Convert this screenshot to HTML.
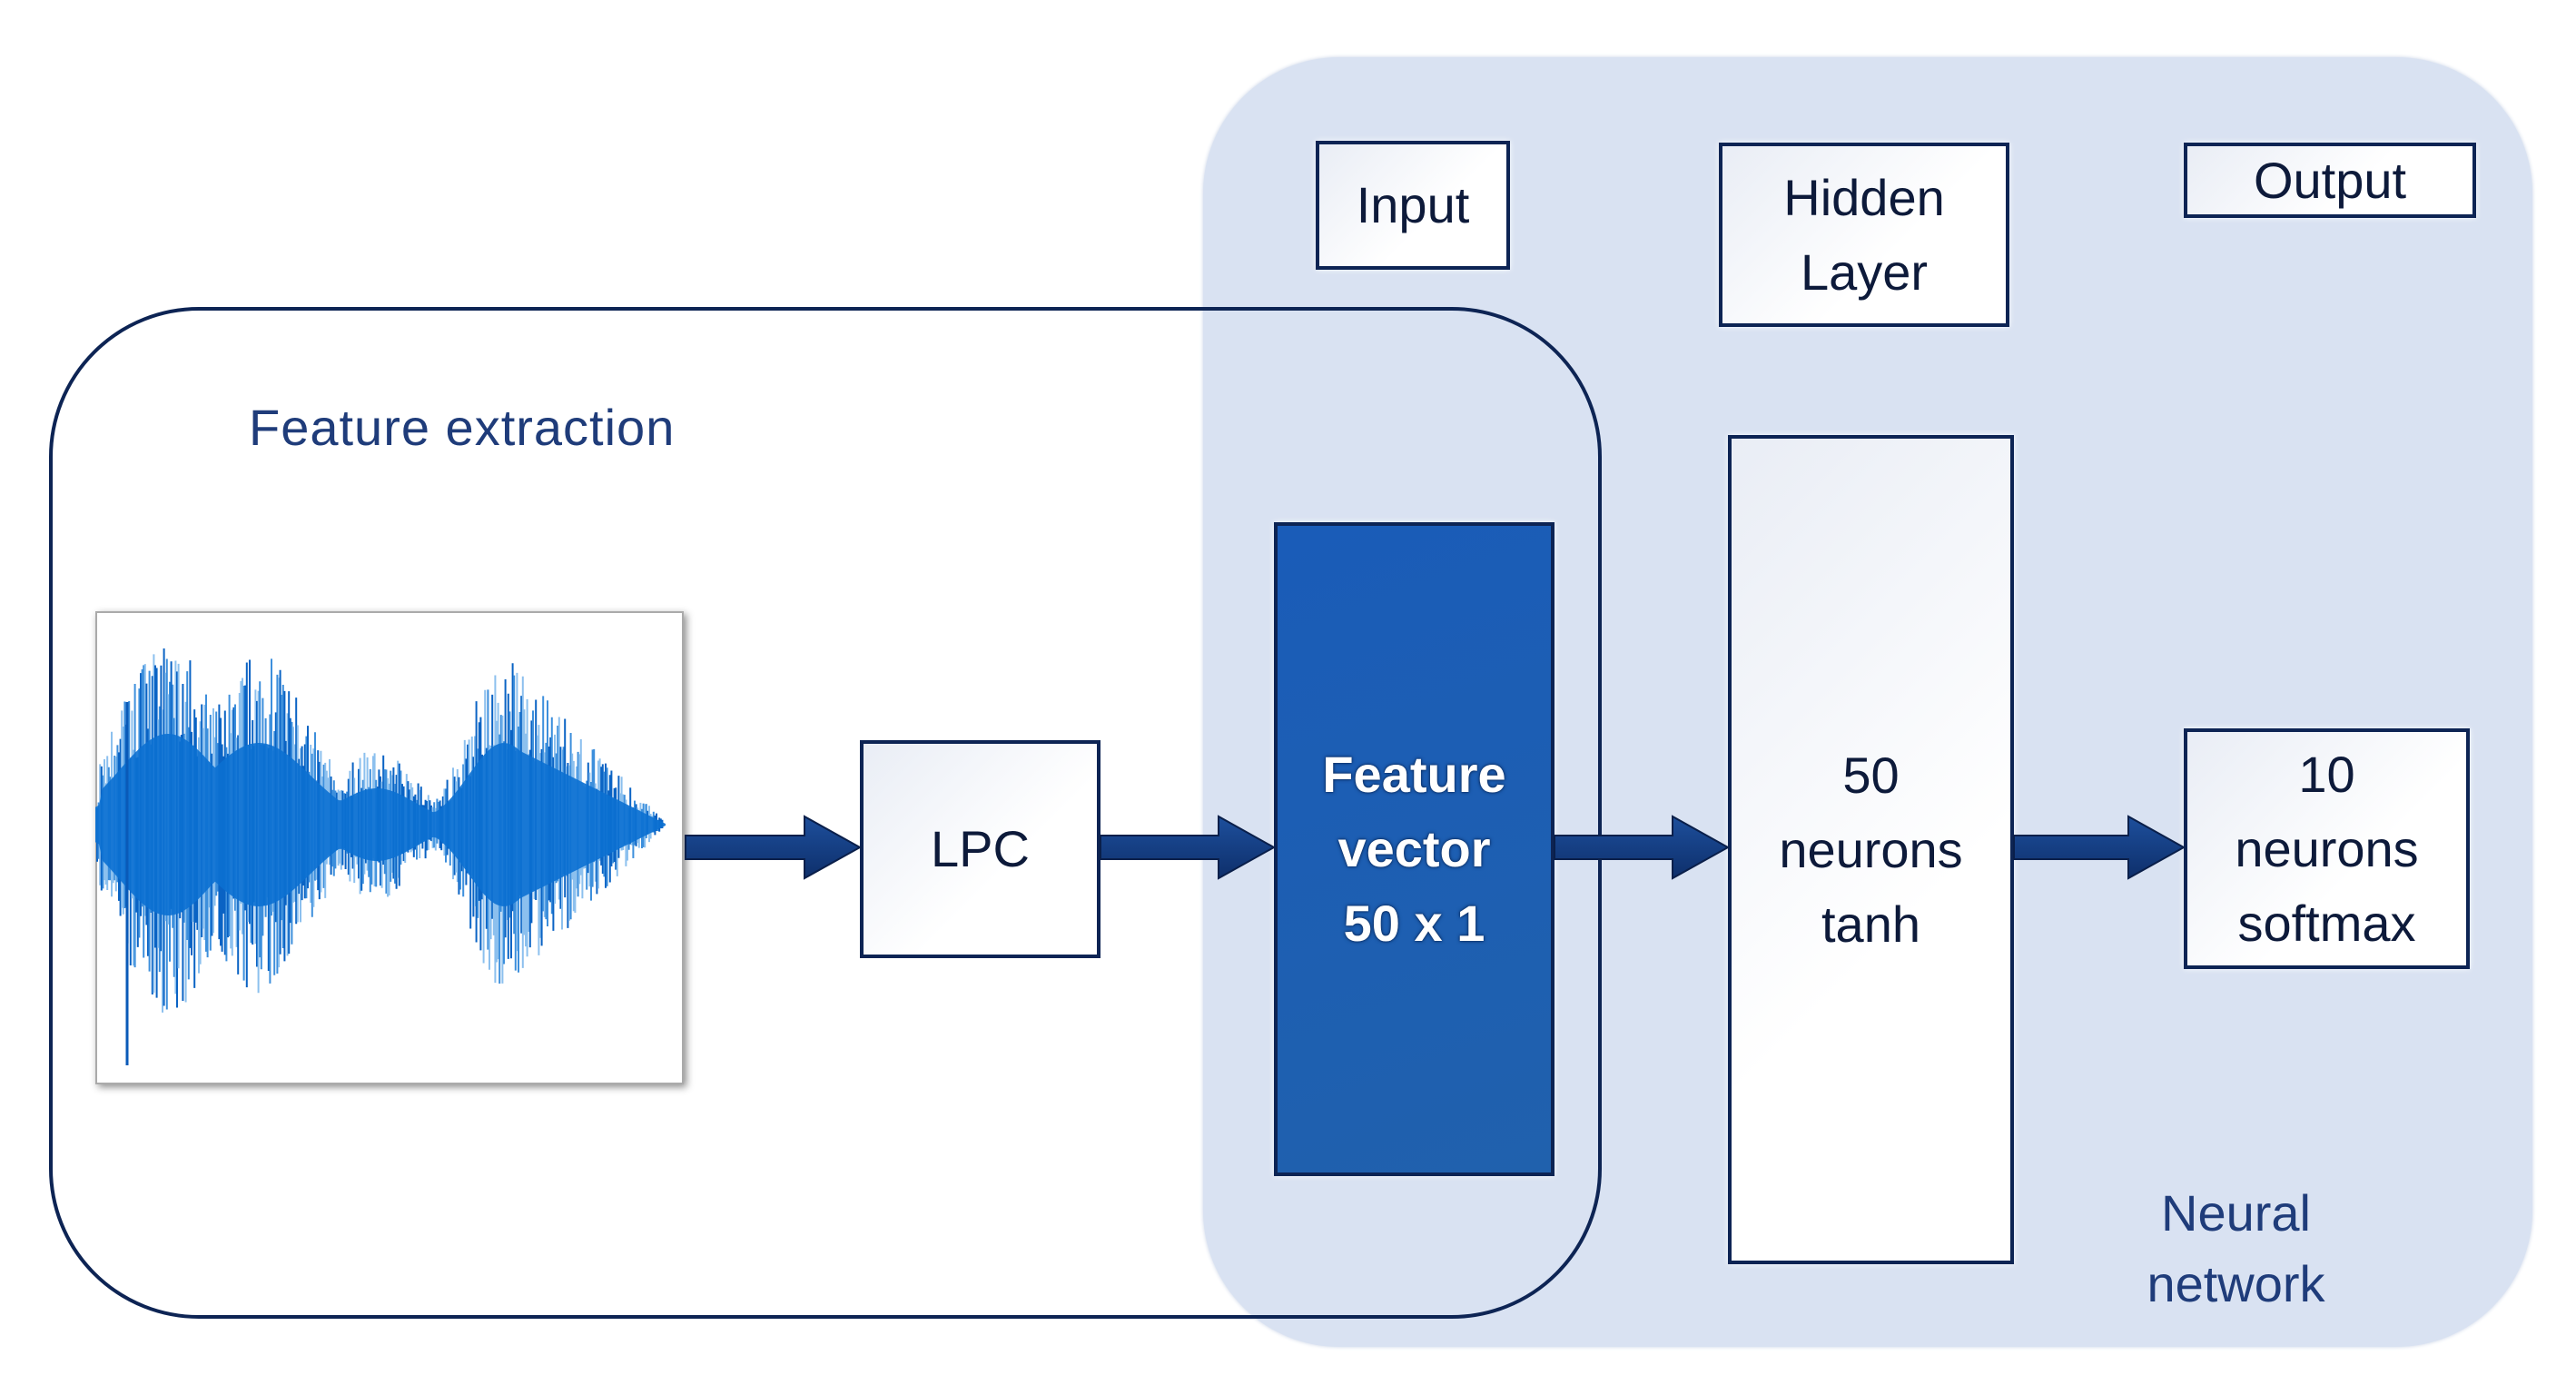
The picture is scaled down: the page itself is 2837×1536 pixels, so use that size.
<!DOCTYPE html>
<html><head><meta charset="utf-8"><style>
html,body{margin:0;padding:0;background:#fff;}
body{width:2837px;height:1536px;position:relative;overflow:hidden;font-family:"Liberation Sans",sans-serif;}
.a{position:absolute;box-sizing:border-box;}
.box{border:4px solid #0d2454;background:linear-gradient(135deg,#e9edf5,#ffffff 60%);display:flex;align-items:center;justify-content:center;text-align:center;color:#0d1a3a;font-size:56px;line-height:82px;box-shadow:0 0 6px rgba(255,255,255,.9);}
.t{color:#1f3c7a;font-size:56px;line-height:78px;}
</style></head><body>
<div class="a" style="left:1325px;top:63px;height:1420px;width:1464px;background:#d9e2f2;border-radius:150px;box-shadow:0 0 4px #c9d3e6;"></div>
<div class="a" style="left:54px;top:338px;width:1710px;height:1114px;border:4px solid #0d2454;border-radius:165px;"></div>
<div class="a t" style="left:274px;top:432px;letter-spacing:1px;">Feature extraction</div>

<div class="a" style="left:105px;top:673px;width:648px;height:521px;background:#fff;border:2px solid #aaa;box-shadow:3px 3px 8px rgba(0,0,0,.45);"></div>
<svg class="a" style="left:105px;top:673px" width="648" height="521" id="wv"></svg>

<div class="a box" style="left:1449px;top:155px;width:214px;height:142px;">Input</div>
<div class="a box" style="left:1893px;top:157px;width:320px;height:203px;">Hidden<br>Layer</div>
<div class="a box" style="left:2405px;top:157px;width:322px;height:83px;">Output</div>

<div class="a box" style="left:947px;top:815px;width:265px;height:240px;">LPC</div>
<div class="a box" style="left:1403px;top:575px;width:309px;height:720px;background:linear-gradient(160deg,#1a5cb8,#2061ad);color:#fff;font-weight:bold;font-size:56px;text-shadow:0 0 4px #0b2a5c,0 0 2px #0b2a5c;">Feature<br>vector<br>50 x 1</div>
<div class="a box" style="left:1903px;top:479px;width:315px;height:913px;">50<br>neurons<br>tanh</div>
<div class="a box" style="left:2405px;top:802px;width:315px;height:265px;">10<br>neurons<br>softmax</div>
<div class="a t" style="left:2340px;top:1297px;width:245px;text-align:center;">Neural<br>network</div>

<svg class="a" style="left:0;top:0" width="2837" height="1536">
<defs><linearGradient id="g" x1="0" y1="0" x2="0" y2="1"><stop offset="0" stop-color="#1d4f9c"/><stop offset="1" stop-color="#0e2f6b"/></linearGradient></defs>
<g fill="url(#g)" stroke="#0a1f4a" stroke-width="2">
<path d="M755 920 h131 v-21 l61 34 l-61 34 v-21 h-131z"/>
<path d="M1212 920 h130 v-21 l61 34 l-61 34 v-21 h-130z"/>
<path d="M1712 920 h130 v-21 l61 34 l-61 34 v-21 h-130z"/>
<path d="M2218 920 h126 v-21 l61 34 l-61 34 v-21 h-126z"/>
</g>
</svg>
<script>
(function(){
var s=document.getElementById('wv'),h='';
var seed=7;function r(){seed=(seed*16807)%2147483647;return seed/2147483647;}
function env(x){
 var e=0;
 e=Math.max(e,200*Math.exp(-Math.pow((x-80)/75,2)));
 e=Math.max(e,180*Math.exp(-Math.pow((x-180)/80,2)));
 e=Math.max(e,80*Math.exp(-Math.pow((x-310)/60,2)));
 e=Math.max(e,180*Math.exp(-Math.pow((x-450)/55,2)));
 if(x>450)e=Math.max(e,180*(1-(x-450)/180));
 if(x<5)e=e*0.6;
 return Math.max(e,0);
}
var cy=235;
for(var x=2;x<628;x+=1.6){
 var e=env(x);if(e<4)continue;
 var up=e*(0.45+0.6*r()),dn=e*(0.45+0.6*r());
 var c=r()<0.4?'#0a63c4':(r()<0.5?'#3d8fdc':'#8cc0ee');
 h+='<line x1="'+x+'" y1="'+(cy-up)+'" x2="'+x+'" y2="'+(cy+dn)+'" stroke="'+c+'" stroke-width="2"/>';
}
var p='M0 '+cy;
for(var x=0;x<=628;x+=4){p+=' L'+x+' '+(cy-env(x)*0.5);}
for(var x=628;x>=0;x-=4){p+=' L'+x+' '+(cy+env(x)*0.5);}
h+='<path d="'+p+'Z" fill="#0b70d2" opacity="0.9"/>';
h+='<line x1="35" y1="100" x2="35" y2="500" stroke="#0a5ab8" stroke-width="3"/>';
s.innerHTML=h;
})();
</script>
</body></html>
